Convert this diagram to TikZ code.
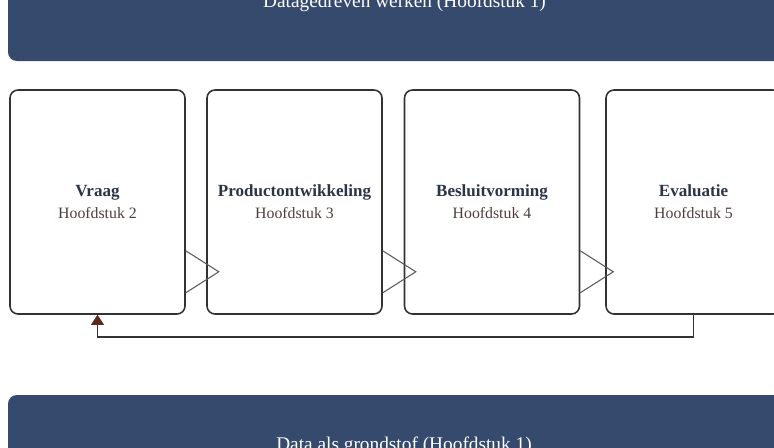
\documentclass[tikz,border=0pt]{standalone}
\usepackage{fontspec}
\setmainfont{Liberation Serif}
\usetikzlibrary{arrows.meta,positioning}

\definecolor{bandblue}{RGB}{54,74,110}
\definecolor{boxgray}{RGB}{50,50,50}
\definecolor{wedgegray}{RGB}{90,90,90}
\definecolor{titleblue}{RGB}{43,53,72}
\definecolor{subbrown}{RGB}{77,64,60}
\definecolor{tipred}{RGB}{92,42,28}

\tikzset{
  band/.style={fill=bandblue, rounded corners=5pt},
  bandtext/.style={text=white, font=\fontsize{11}{13}\selectfont, anchor=base, inner sep=0pt},
  phase/.style={draw=boxgray, line width=0.9pt, rounded corners=4.5pt, fill=white,
    minimum width=3.5cm, minimum height=4.48cm, align=center, inner sep=0pt},
  wedge/.style={draw=wedgegray, line width=0.6pt, line join=miter},
  feedback/.style={draw=boxgray, line width=0.9pt,
    -{Triangle[width=7.4pt,length=5.8pt,fill=tipred,color=tipred]}}
}

\newcommand{\phasetext}[2]{%
  {\fontsize{9.7}{13}\selectfont\bfseries\color{titleblue}#1}\\[0.5pt]
  {\fontsize{9}{13}\selectfont\color{subbrown}#2}}

\begin{document}
\begin{tikzpicture}[x=0.02cm, y=-0.02cm]

  % canvas
  \useasboundingbox (0,0) rectangle (774,447);
  \clip (0,0) rectangle (774,447);

  % top and bottom bands
  \fill[band] (8,-30) rectangle (820,61);
  \node[bandtext] (toptext) at (404.5,7) {Datagedreven werken (Hoofdstuk 1)};
  \fill[band] (8,395) rectangle (820,480);
  \node[bandtext] (bottomtext) at (404,450) {Data als grondstof (Hoofdstuk 1)};

  % the four phases
  \node[phase] (vraag) at (97.5,202) {\phasetext{Vraag}{Hoofdstuk 2}};
  \node[phase] (product) at (294.5,202) {\phasetext{Productontwikkeling}{Hoofdstuk 3}};
  \node[phase] (besluit) at (492,202) {\phasetext{Besluitvorming}{Hoofdstuk 4}};
  \node[phase] (evaluatie) at (693.5,202) {\phasetext{Evaluatie}{Hoofdstuk 5}};

  % wedges between the phases
  \foreach \a in {vraag,product,besluit}{
    \draw[wedge] ([yshift=1.28cm]\a.south east) -- ([xshift=0.66cm,yshift=0.86cm]\a.south east)
      -- ([yshift=0.44cm]\a.south east);
  }

  % back to the start
  \coordinate (turn) at (0,337);
  \draw[feedback] (evaluatie.south) |- (turn -| vraag.south) -- (vraag.south);

\end{tikzpicture}
\end{document}
